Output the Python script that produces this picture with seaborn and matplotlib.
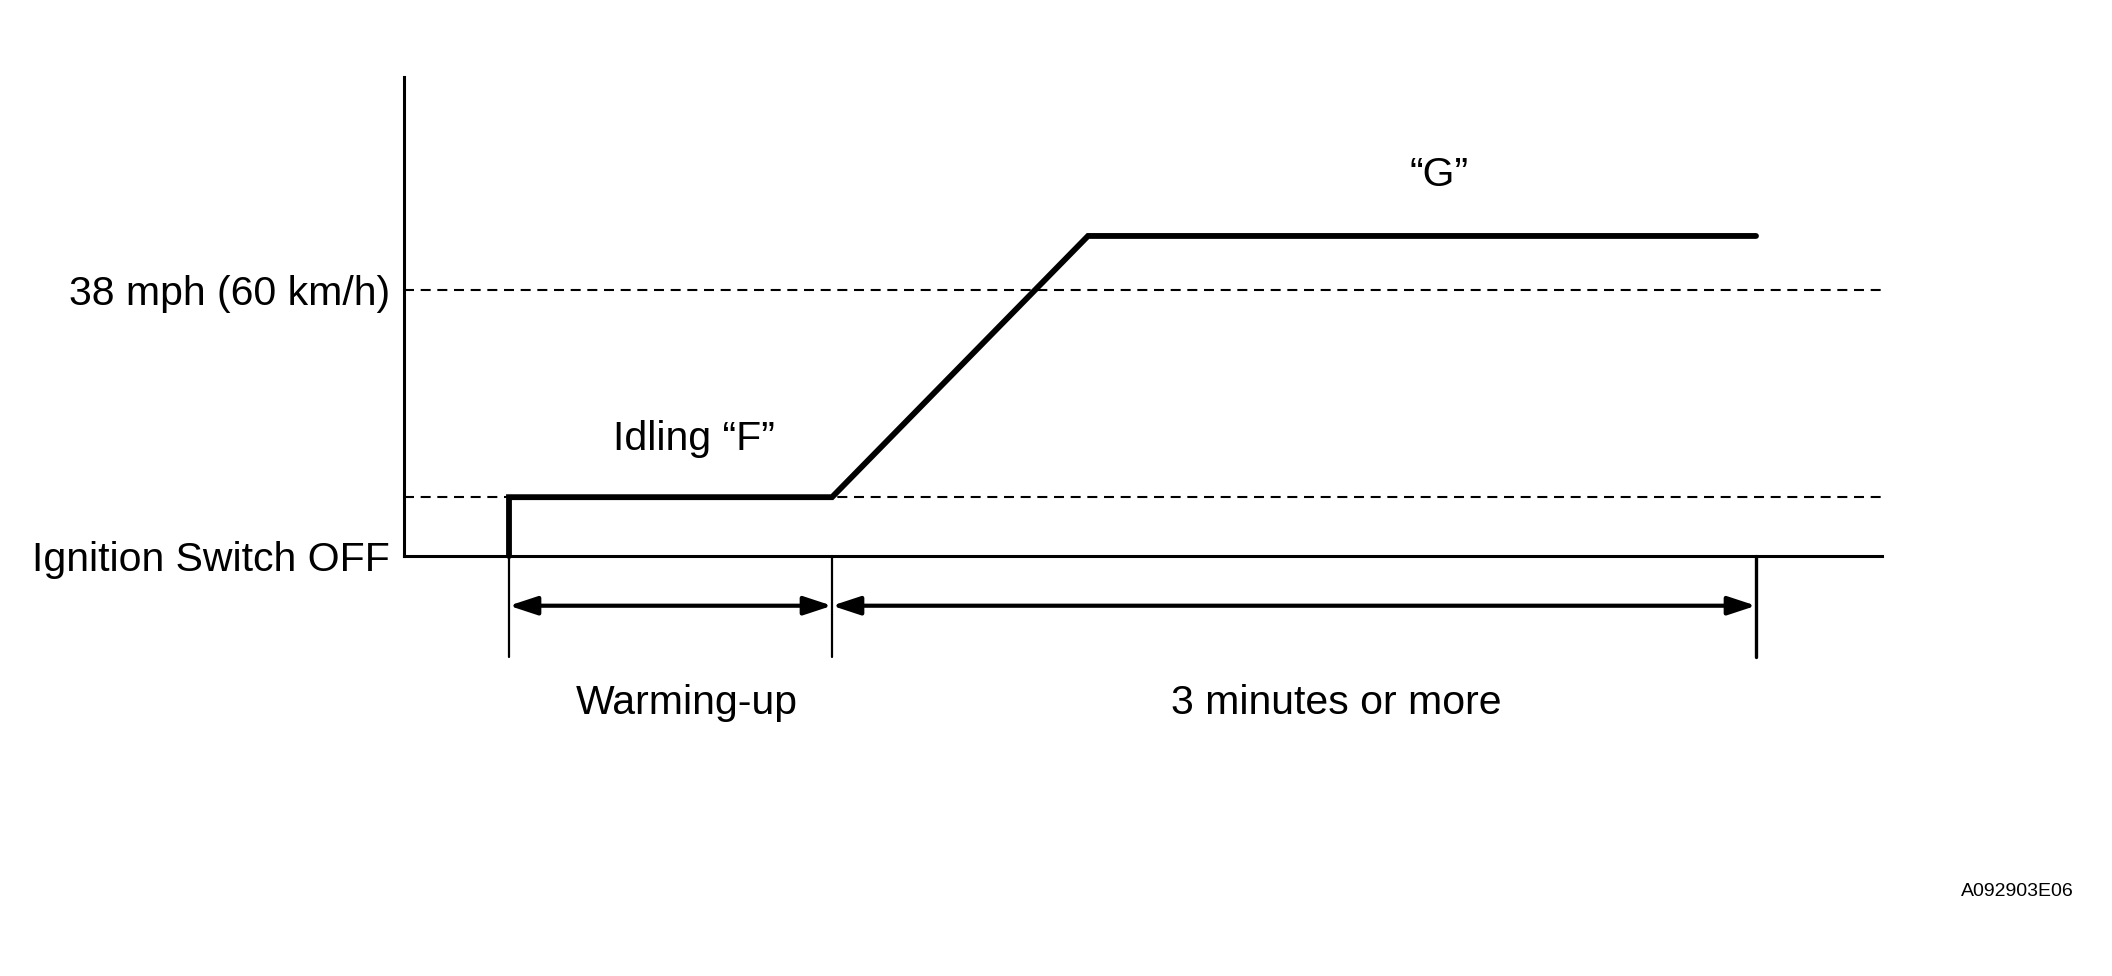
import matplotlib
matplotlib.use("Agg")
import pandas as pd
import matplotlib.pyplot as plt
import seaborn as sns

# Style
sns.set_style("white")
plt.rcParams["font.family"] = ["Liberation Sans", "DejaVu Sans"]
plt.rcParams["text.color"] = "black"
plt.rcParams["ytick.labelcolor"] = "black"

# ===== DATA =====
# speed profile (x = time, arbitrary units; y = speed, mph)
tempo = [1.05, 1.05, 4.28, 6.84, 13.52]
velocidade = [0, 8.4, 8.4, 45.7, 45.7]

# reference speeds (dashed lines) and y tick labels
nivel_idle = 8.4
nivel_38mph = 38
y_ticks = [0, 38]
y_labels = ["Ignition Switch OFF", "38 mph (60 km/h)"]

# phase boundaries and labels
fases_inicio = [1.05, 4.28]
fases_fim = [4.28, 13.52]
fases_nome = ["Warming-up", "3 minutes or more"]
fases_texto_x = [2.83, 9.32]
x_max = 14.78
y_max = 68.4

perfil = pd.DataFrame({"Tempo": tempo, "Velocidade": velocidade})

# ===== FIGURE =====
fig = plt.figure(figsize=(21.12, 9.76), dpi=100)
ax = fig.add_axes([404 / 2112, 1 - 556 / 976, (1882 - 404) / 2112, (556 - 77) / 976])

# dashed reference lines
dash_lw = 1.5
for nivel in [nivel_idle, nivel_38mph]:
    ax.axhline(nivel, color="black", lw=dash_lw, dashes=(7.2 / dash_lw, 4.8 / dash_lw), zorder=1)

# speed profile
sns.lineplot(x="Tempo", y="Velocidade", data=perfil, sort=False, estimator=None,
             color="black", lw=4.2, ax=ax, zorder=3, clip_on=False)
ax.lines[-1].set_solid_joinstyle("miter")

ax.set_xlim(0, x_max)
ax.set_ylim(0, y_max)

# axes
for lado in ["top", "right"]:
    ax.spines[lado].set_visible(False)
for lado in ["left", "bottom"]:
    ax.spines[lado].set_linewidth(2.2)
    ax.spines[lado].set_color("black")
ax.set_xticks([])
ax.set_yticks(y_ticks)
ax.set_yticklabels(y_labels, fontsize=29.5, color="black")
ax.tick_params(axis="y", length=0, pad=10)
ax.set_xlabel("")
ax.set_ylabel("")

# ===== PHASE MARKERS BELOW THE AXIS =====
y_seta = -7.1
y_fim_marca = -14.4
y_texto = -21.0
limites = sorted(set(fases_inicio + fases_fim))
for i, x in enumerate(limites):
    ax.plot([x, x], [0, y_fim_marca], color="black", lw=1.6 if i < len(limites) - 1 else 2.4,
            clip_on=False, zorder=2)

for x0, x1, xt, nome in zip(fases_inicio, fases_fim, fases_texto_x, fases_nome):
    ax.annotate("", xy=(x1, y_seta), xytext=(x0, y_seta), annotation_clip=False,
                arrowprops=dict(arrowstyle="<|-|>,head_length=0.85,head_width=0.28",
                                mutation_scale=20, lw=3, color="black",
                                shrinkA=0, shrinkB=0))
    ax.text(xt, y_texto, nome, fontsize=29.5, ha="center", va="center", clip_on=False)

# ===== LABELS =====
ax.text(2.90, 16.7, "Idling \u201cF\u201d", fontsize=29.5, ha="center", va="center")
ax.text(10.35, 54.4, "\u201cG\u201d", fontsize=29.5, ha="center", va="center")

fig.text(2074 / 2112, 1 - 892 / 976, "A092903E06", fontsize=14, ha="right", va="center")

fig.savefig("out.png", dpi=100, facecolor="white")
